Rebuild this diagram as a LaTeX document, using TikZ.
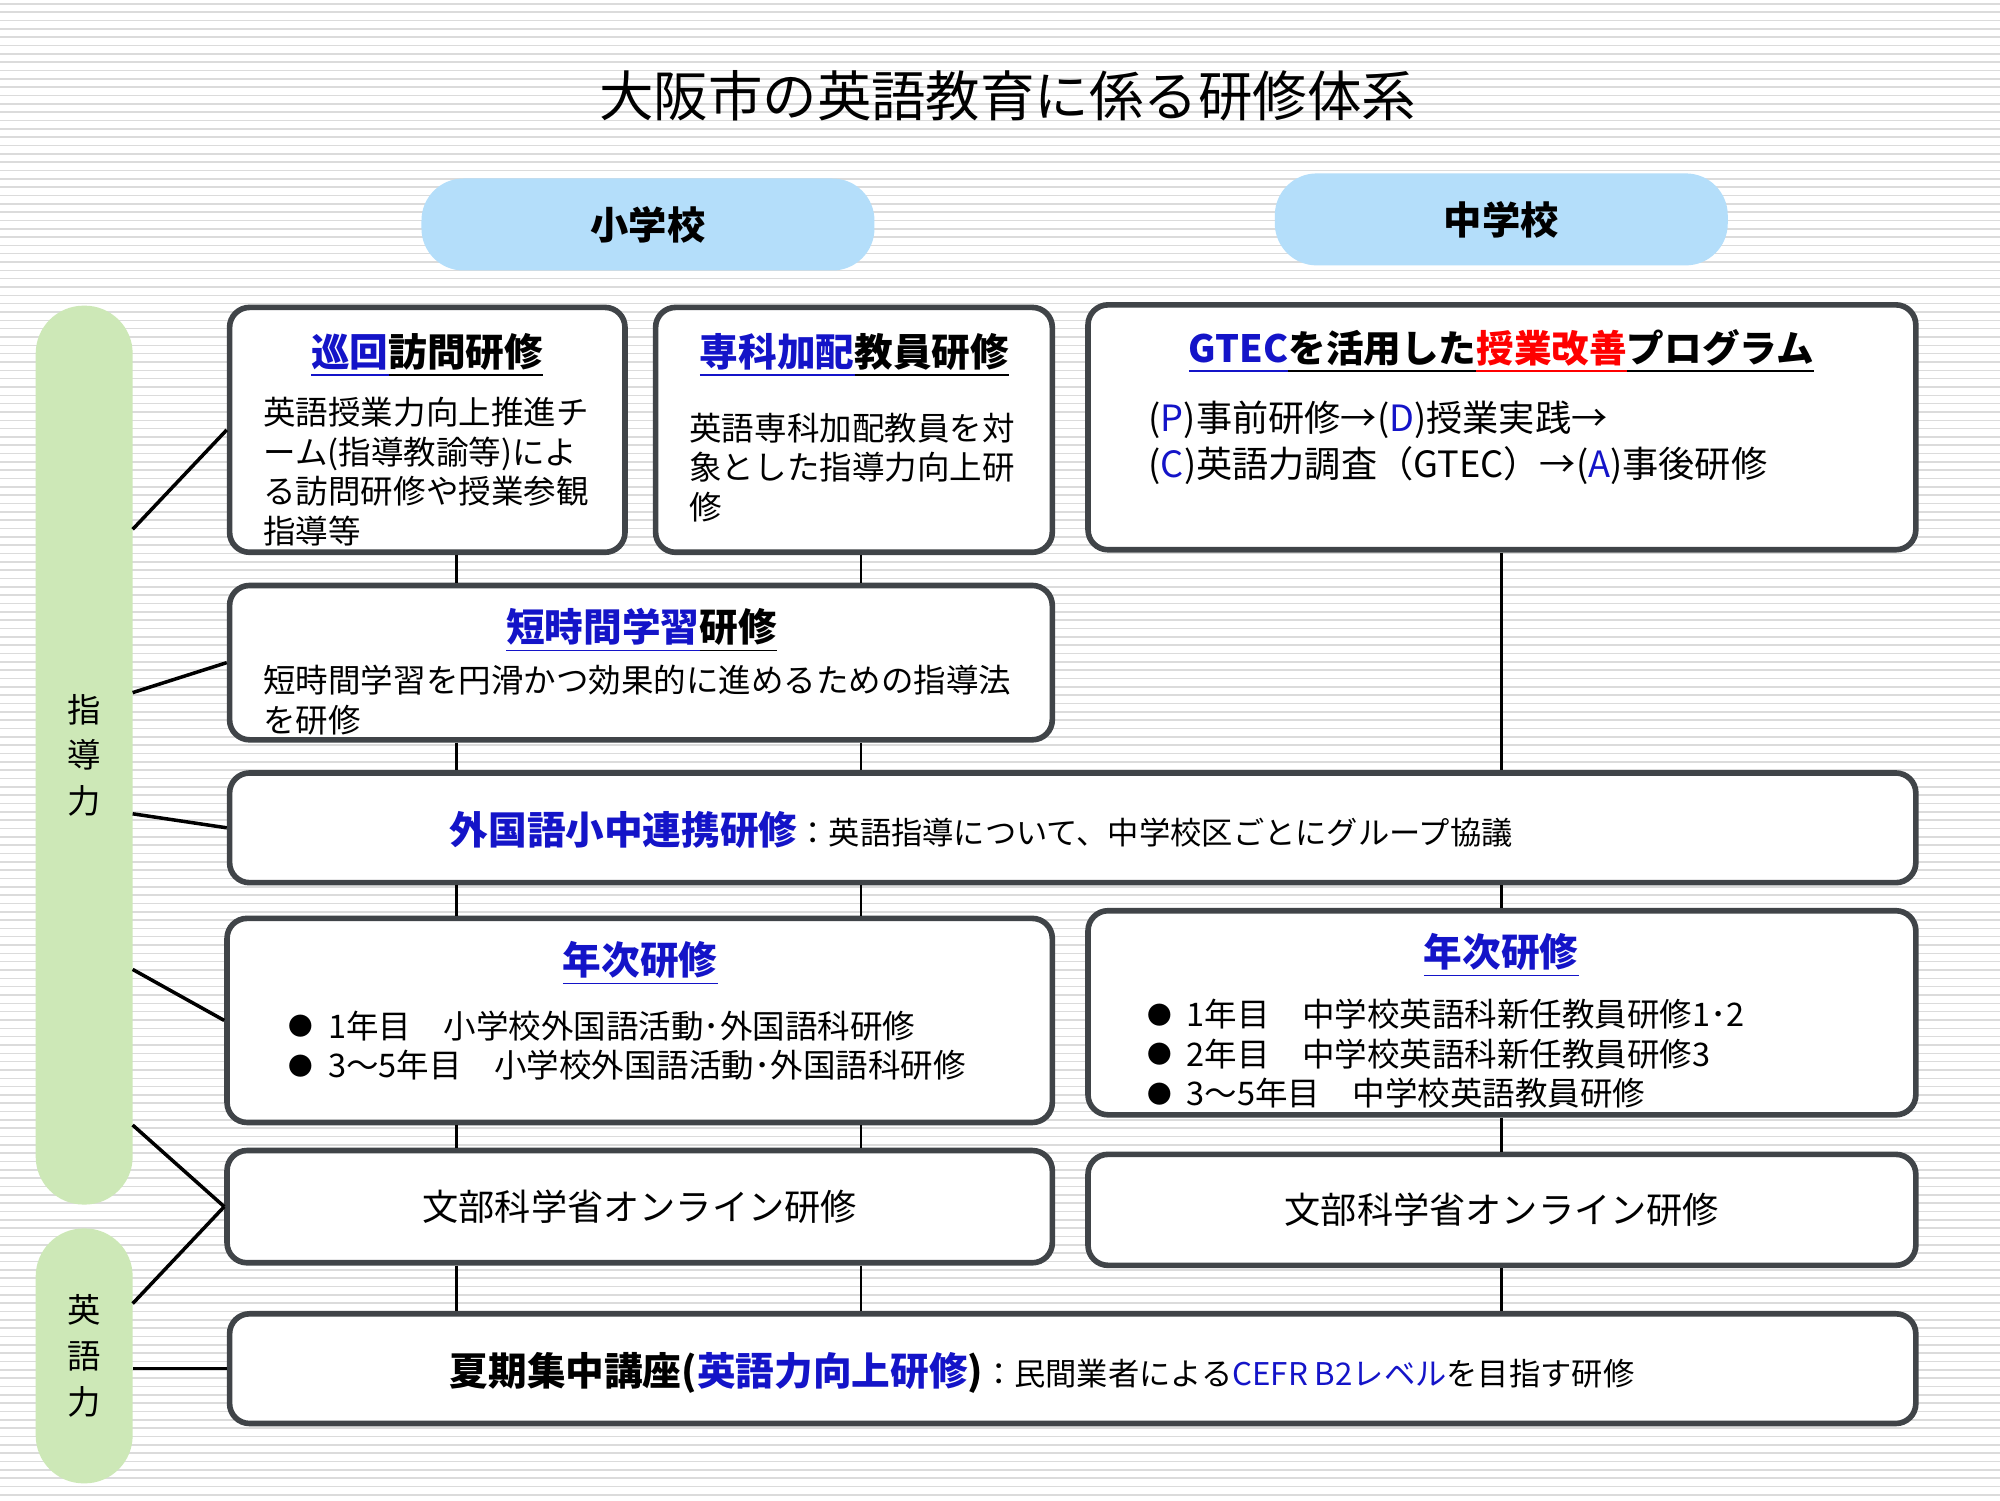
\documentclass[tikz,border=0pt]{standalone}
\usepackage{fontspec}
\setmainfont{Noto Sans CJK JP}
\usepackage{xcolor}
\usetikzlibrary{fit}

\definecolor{kblue}{RGB}{20,20,200}
\definecolor{kred}{RGB}{255,0,0}
\definecolor{kborder}{RGB}{64,68,72}
\definecolor{pillblue}{RGB}{180,222,250}
\definecolor{pillgreen}{RGB}{205,232,183}

\newcommand{\kenul}[1]{\underline{#1\vphantom{研}}}
\newcommand{\kendot}{\raisebox{0.8pt}{\fontsize{7pt}{8pt}\selectfont●}\hspace{0.45em}}

\tikzset{
  kenbox/.style={draw=kborder, line width=1.6pt, rounded corners=0.2cm, fill=white, inner sep=0pt},
  schpill/.style={fill=pillblue, rounded corners=0.42cm, minimum width=4.53cm, minimum height=0.92cm,
    font=\fontsize{10.9pt}{13pt}\selectfont\bfseries},
  sidepill/.style={fill=pillgreen, rounded corners=0.48cm, minimum width=0.97cm, align=center,
    font=\fontsize{9.5pt}{13pt}\selectfont},
  ttl/.style={inner sep=0pt, font=\fontsize{11pt}{13pt}\selectfont\bfseries},
  body/.style={inner sep=0pt, align=left, font=\fontsize{9.25pt}{11.25pt}\selectfont},
  conn/.style={line width=0.8pt, black},
  tie/.style={line width=1pt, black}
}

\begin{document}
\begin{tikzpicture}[x=0.012755cm, y=-0.012755cm]
  \useasboundingbox (0,0) rectangle (1568,1176);
  \fill[white] (0,0) rectangle (1568,1176);
  % striped background
  \foreach \y in {3,9.53,...,1176}
    \draw[black!14, line width=0.45pt] (0,\y) -- (1568,\y);

  \node[inner sep=0pt, anchor=base, font=\fontsize{15.5pt}{18pt}\selectfont] (title) at (790,91) {大阪市の英語教育に係る研修体系};

  \node[schpill] (sho) at (508,176) {小学校};
  \node[schpill] (chu) at (1177,172) {中学校};

  \node[sidepill, minimum height=8.99cm] (shido) at (66,592) {指\\導\\力};
  \node[sidepill, minimum height=2.55cm] (eigo) at (66,1063) {英\\語\\力};

  % boxes
  \node[kenbox, fit={(180,241) (490,433)}] (junkai) {};
  \node[kenbox, fit={(514,241) (825,433)}] (senka) {};
  \node[kenbox, fit={(853,239) (1502,431)}] (gtec) {};
  \node[kenbox, fit={(180,459) (825,580)}] (tanji) {};
  \node[kenbox, fit={(180,606) (1502,692)}] (renkei) {};
  \node[kenbox, fit={(178,720) (825,880)}] (nenjiL) {};
  \node[kenbox, fit={(853,714) (1502,874)}] (nenjiR) {};
  \node[kenbox, fit={(178,902) (825,990)}] (monkaL) {};
  \node[kenbox, fit={(853,905) (1502,992)}] (monkaR) {};
  \node[kenbox, fit={(180,1030) (1502,1116)}] (kaki) {};

  % vertical links
  \coordinate (cL) at (358,0);
  \coordinate (cR) at (675,0);
  \coordinate (cJ) at (1177,0);
  \foreach \a/\b/\c in {junkai/tanji/cL, senka/tanji/cR, tanji/renkei/cL, tanji/renkei/cR,
      renkei/nenjiL/cL, renkei/nenjiL/cR, nenjiL/monkaL/cL, nenjiL/monkaL/cR,
      monkaL/kaki/cL, monkaL/kaki/cR, gtec/renkei/cJ, renkei/nenjiR/cJ,
      nenjiR/monkaR/cJ, monkaR/kaki/cJ}
    \draw[conn] (\a.south -| \c) -- (\b.north -| \c);

  % ties from the side pills
  \coordinate (s1) at (104,415);
  \coordinate (s2) at (104,543);
  \coordinate (s3) at (104,638);
  \coordinate (s4) at (104,760);
  \coordinate (s5) at (104,882);
  \coordinate (e1) at (104,1022);
  \draw[tie] (s1) -- (junkai.west);
  \draw[tie] (s2) -- (tanji.west);
  \draw[tie] (s3) -- (renkei.west);
  \draw[tie] (s4) -- (nenjiL.west);
  \draw[tie] (s5) -- (monkaL.west);
  \draw[tie] (e1) -- (monkaL.west);
  \draw[tie] (eigo.east |- kaki.west) -- (kaki.west);

  % texts (multi-line nodes sit on the baseline of their last line)
  \node[ttl, anchor=base] (junkaiT) at (335,287) {\textcolor{kblue}{\kenul{巡回}}\kenul{訪問研修}};
  \node[body, anchor=base west] (junkaiB) at (206,426)
    {英語授業力向上推進チ\\ーム(指導教諭等)によ\\る訪問研修や授業参観\\指導等};

  \node[ttl, anchor=base] (senkaT) at (670,287) {\textcolor{kblue}{\kenul{専科加配}}\kenul{教員研修}};
  \node[body, anchor=base west] (senkaB) at (540,407)
    {英語専科加配教員を対\\象とした指導力向上研\\修};

  \node[ttl, anchor=base, font=\fontsize{10.7pt}{13pt}\selectfont\bfseries] (gtecT) at (1177,284)
    {\textcolor{kblue}{\kenul{GTEC}}\kenul{を活用した}\textcolor{kred}{\kenul{授業改善}}\kenul{プログラム}};
  \node[body, anchor=base west, font=\fontsize{10.3pt}{13pt}\selectfont] (gtecB) at (900,374)
    {(\textcolor{kblue}{P})事前研修→(\textcolor{kblue}{D})授業実践→\\(\textcolor{kblue}{C})英語力調査（GTEC）→(\textcolor{kblue}{A})事後研修};

  \node[ttl, anchor=base] (tanjiT) at (503,503) {\textcolor{kblue}{\kenul{短時間学習}}\kenul{研修}};
  \node[body, anchor=base west] (tanjiB) at (206,574)
    {短時間学習を円滑かつ効果的に進めるための指導法\\を研修};

  \node[body, anchor=base west] (renkeiT) at (352,662)
    {{\fontsize{11pt}{13pt}\selectfont\bfseries\color{kblue}外国語小中連携研修}{\fontsize{8.9pt}{11pt}\selectfont：英語指導について、中学校区ごとにグループ協議}};

  \node[ttl, anchor=base] (nenjiLT) at (502,764) {\textcolor{kblue}{\kenul{年次研修}}};
  \node[body, anchor=base west] (nenjiLB) at (226,845)
    {\kendot 1年目　小学校外国語活動･外国語科研修\\\kendot 3～5年目　小学校外国語活動･外国語科研修};

  \node[ttl, anchor=base] (nenjiRT) at (1177,758) {\textcolor{kblue}{\kenul{年次研修}}};
  \node[body, anchor=base west] (nenjiRB) at (899,867)
    {\kendot 1年目　中学校英語科新任教員研修1･2\\\kendot 2年目　中学校英語科新任教員研修3\\\kendot 3～5年目　中学校英語教員研修};

  \node[inner sep=0pt, font=\fontsize{10.3pt}{12pt}\selectfont] (monkaLT) at (monkaL) {文部科学省オンライン研修};
  \node[inner sep=0pt, font=\fontsize{10.3pt}{12pt}\selectfont] (monkaRT) at (monkaR) {文部科学省オンライン研修};

  \node[body, anchor=base west] (kakiT) at (352,1086)
    {{\fontsize{11pt}{13pt}\selectfont\bfseries 夏期集中講座(\textcolor{kblue}{英語力向上研修})}{\fontsize{8.9pt}{11pt}\selectfont：民間業者による\textcolor{kblue}{CEFR B2レベル}を目指す研修}};
\end{tikzpicture}
\end{document}
